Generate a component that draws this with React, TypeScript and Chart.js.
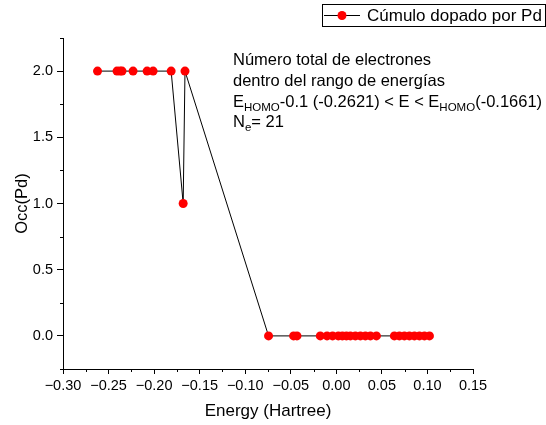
import React, { useEffect, useRef } from "react";
import { Chart, registerables } from "chart.js";

Chart.register(...registerables);

const seriesLabel = "Cúmulo dopado por Pd";
const energies = [
  -0.2621, -0.2407, -0.2374, -0.2352, -0.2231, -0.2077, -0.2011, -0.1813, -0.1681, -0.1661,
  -0.0744, -0.0469, -0.0432, -0.0176, -0.0102, -0.0041, 0.0022, 0.0066, 0.011, 0.0154,
  0.0209, 0.0264, 0.0319, 0.0374, 0.044, 0.0637, 0.0692, 0.0747, 0.0802, 0.0857, 0.0912,
  0.0967, 0.1022,
];
const occupations = [
  2, 2, 2, 2, 2, 2, 2, 2, 1, 2,
  0, 0, 0, 0, 0, 0, 0, 0, 0, 0,
  0, 0, 0, 0, 0, 0, 0, 0, 0, 0, 0,
  0, 0,
];
const xTitle = "Energy (Hartree)";
const yTitle = "Occ(Pd)";
const xMin = -0.3, xMax = 0.15, xMajor = 0.05, xMinor = 0.025;
const yMin = -0.25, yMax = 2.25, yMajor = 0.5, yMinor = 0.25;
const noteLines = [
  [{ t: "Número total de electrones" }],
  [{ t: "dentro del rango de energías" }],
  [
    { t: "E" }, { t: "HOMO", sub: true }, { t: "-0.1 (-0.2621) < E < E" },
    { t: "HOMO", sub: true }, { t: "(-0.1661)" },
  ],
  [{ t: "N" }, { t: "e", sub: true }, { t: "= 21" }],
];

const FONT = "'Liberation Sans', Arial, sans-serif";
const isMult = (v: number, m: number) => Math.abs(v / m - Math.round(v / m)) < 1e-6;
const fmt = (v: number, d: number) => {
  const s = Math.abs(v) < 1e-9 ? (0).toFixed(d) : v.toFixed(d);
  return s.replace("-", "\u2212");
};

const decorPlugin = {
  id: "decor",
  afterDraw(chart: any) {
    const ctx = chart.ctx;
    const xs = chart.scales.x;
    const ys = chart.scales.y;
    const area = chart.chartArea;
    ctx.save();
    ctx.strokeStyle = "#000";
    ctx.lineWidth = 1;
    // minor ticks
    ctx.beginPath();
    xs.ticks.forEach((t: any) => {
      if (!isMult(t.value, xMajor)) {
        const px = Math.round(xs.getPixelForValue(t.value)) + 0.5;
        ctx.moveTo(px, area.bottom);
        ctx.lineTo(px, area.bottom + 3);
      }
    });
    ys.ticks.forEach((t: any) => {
      if (!isMult(t.value, yMajor)) {
        const py = Math.round(ys.getPixelForValue(t.value)) + 0.5;
        ctx.moveTo(area.left, py);
        ctx.lineTo(area.left - 3, py);
      }
    });
    ctx.stroke();

    // axis titles
    ctx.fillStyle = "#000";
    ctx.textAlign = "center";
    ctx.textBaseline = "alphabetic";
    ctx.font = `17px ${FONT}`;
    ctx.fillText(xTitle, (area.left + area.right) / 2, 416);
    ctx.save();
    ctx.font = `16.5px ${FONT}`;
    ctx.translate(27, (area.top + area.bottom) / 2);
    ctx.rotate(-Math.PI / 2);
    ctx.fillText(yTitle, 0, 0);
    ctx.restore();

    // annotation
    ctx.textAlign = "left";
    const baselines = [65, 86, 107, 127];
    noteLines.forEach((line, i) => {
      let x = 233;
      line.forEach((seg: any) => {
        if (seg.sub) {
          ctx.font = `11.5px ${FONT}`;
          ctx.fillText(seg.t, x, baselines[i] + 4);
        } else {
          ctx.font = `16.5px ${FONT}`;
          ctx.fillText(seg.t, x, baselines[i]);
        }
        x += ctx.measureText(seg.t).width;
      });
    });

    // legend
    const ds = chart.data.datasets[0];
    ctx.strokeStyle = "#000";
    ctx.lineWidth = 1;
    ctx.strokeRect(322.5, 4.5, 223, 22);
    ctx.beginPath();
    ctx.moveTo(324, 15.5);
    ctx.lineTo(360, 15.5);
    ctx.stroke();
    ctx.fillStyle = "#ff0000";
    ctx.beginPath();
    ctx.arc(342, 15.5, 4.5, 0, Math.PI * 2);
    ctx.fill();
    ctx.fillStyle = "#000";
    ctx.font = `17px ${FONT}`;
    ctx.fillText(ds.label, 367, 21);
    ctx.restore();
  },
};

export default function App() {
  const ref = useRef<HTMLCanvasElement>(null);
  useEffect(() => {
    if (!ref.current) return;
    const chart = new Chart(ref.current, {
      type: "scatter",
      data: {
        datasets: [
          {
            label: seriesLabel,
            data: energies.map((e, i) => ({ x: e, y: occupations[i] })),
            showLine: true,
            borderColor: "#000",
            borderWidth: 1,
            pointRadius: 4.5,
            pointBackgroundColor: "#ff0000",
            pointBorderColor: "#ff0000",
            pointBorderWidth: 0,
          },
        ],
      },
      options: {
        responsive: false,
        animation: false,
        events: [],
        layout: { padding: { left: 0, top: 38, right: 73, bottom: 0 } },
        plugins: { legend: { display: false }, tooltip: { enabled: false } },
        scales: {
          x: {
            type: "linear",
            min: xMin,
            max: xMax,
            afterFit: (s: any) => { s.height = 56; },
            ticks: {
              stepSize: xMinor,
              autoSkip: false,
              maxRotation: 0,
              minRotation: 0,
              padding: 3,
              color: "#000",
              font: { family: FONT, size: 14.5 },
              callback: (v: any) => (isMult(Number(v), xMajor) ? fmt(Number(v), 2) : ""),
            },
            grid: {
              drawOnChartArea: false,
              drawTicks: true,
              tickLength: 5,
              tickColor: (c: any) => (c.tick && isMult(c.tick.value, xMajor) ? "#000" : "rgba(0,0,0,0)"),
            },
            border: { display: true, color: "#000", width: 1 },
          },
          y: {
            type: "linear",
            min: yMin,
            max: yMax,
            afterFit: (s: any) => { s.width = 63; },
            ticks: {
              stepSize: yMinor,
              autoSkip: false,
              padding: 4,
              color: "#000",
              font: { family: FONT, size: 14.5 },
              callback: (v: any) => (isMult(Number(v), yMajor) ? fmt(Number(v), 1) : ""),
            },
            grid: {
              drawOnChartArea: false,
              drawTicks: true,
              tickLength: 6,
              tickColor: (c: any) => (c.tick && isMult(c.tick.value, yMajor) ? "#000" : "rgba(0,0,0,0)"),
            },
            border: { display: true, color: "#000", width: 1 },
          },
        },
      },
      plugins: [decorPlugin],
    });
    return () => chart.destroy();
  }, []);
  return (
    <div style={{ position: "absolute", left: 0, top: 0, width: 546, height: 425, background: "#fff" }}>
      <canvas ref={ref} width={546} height={425} />
    </div>
  );
}
